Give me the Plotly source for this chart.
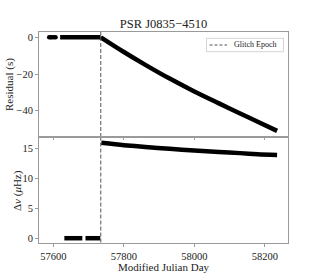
import plotly.graph_objects as go
from plotly.subplots import make_subplots

# ---- data ----
glitch_mjd = 57734.4

# pre-glitch residuals (s)
pre_res_mjd_a = [57588, 57592, 57596, 57601, 57606]
pre_res_val_a = [0, 0, 0, 0, 0]
pre_res_mjd_b = [57619, 57650, 57680, 57710, 57734]
pre_res_val_b = [0, 0, 0, 0, 0]

# post-glitch residuals (s)
post_res_mjd = [57734.4, 57800, 57861, 57930, 58000, 58070, 58130, 58180, 58235]
post_res_val = [0.0, -8.0, -15.0, -22.5, -29.5, -36.0, -41.5, -46.0, -51.0]

# pre-glitch frequency change (uHz)
pre_dnu_mjd_a = [57631, 57650, 57670, 57682]
pre_dnu_val_a = [0, 0, 0, 0]
pre_dnu_mjd_b = [57691, 57710, 57733]
pre_dnu_val_b = [0, 0, 0]

# post-glitch frequency change (uHz)
post_dnu_mjd = [57736, 57800, 57861, 57930, 58000, 58070, 58130, 58180, 58235]
post_dnu_val = [15.95, 15.55, 15.25, 14.95, 14.65, 14.42, 14.22, 14.05, 13.92]

x_ticks = [57600, 57800, 58000, 58200]
res_ticks = [0, -20, -40]
dnu_ticks = [0, 5, 10, 15]

FONT = "Liberation Serif"
SPINE = "#9a9a9a"
TXT = "#222222"

# plot-area geometry (pixels) used to place the hand-made legend / labels
L, R, T, B = 39, 32, 32, 30
W, H = 320, 273
PW, PH = W - L - R, H - T - B


def px_x(x):
    return (x - L) / PW


def px_y(y):
    return (H - B - y) / PH


fig = make_subplots(rows=2, cols=1, shared_xaxes=True, vertical_spacing=0.01)

mk = dict(color="black", size=4.5)
ln = dict(color="black", width=4.5)
ln_s = dict(color="black", width=4.5, shape="spline", smoothing=0.8)

# top panel
fig.add_trace(go.Scatter(x=pre_res_mjd_a, y=pre_res_val_a, mode="markers", marker=mk,
                         showlegend=False), row=1, col=1)
fig.add_trace(go.Scatter(x=pre_res_mjd_b, y=pre_res_val_b, mode="lines", line=ln,
                         showlegend=False), row=1, col=1)
fig.add_trace(go.Scatter(x=post_res_mjd, y=post_res_val, mode="lines", line=ln_s,
                         showlegend=False), row=1, col=1)

# bottom panel
fig.add_trace(go.Scatter(x=pre_dnu_mjd_a, y=pre_dnu_val_a, mode="lines", line=ln,
                         showlegend=False), row=2, col=1)
fig.add_trace(go.Scatter(x=pre_dnu_mjd_b, y=pre_dnu_val_b, mode="lines", line=ln,
                         showlegend=False), row=2, col=1)
fig.add_trace(go.Scatter(x=post_dnu_mjd, y=post_dnu_val, mode="lines", line=ln_s,
                         showlegend=False), row=2, col=1)

# glitch epoch lines
gl = dict(color="#555555", width=1, dash="4px,2px")
fig.add_trace(go.Scatter(x=[glitch_mjd, glitch_mjd], y=[10, -60], mode="lines", line=gl,
                         name="Glitch Epoch", showlegend=False), row=1, col=1)
fig.add_trace(go.Scatter(x=[glitch_mjd, glitch_mjd], y=[20, -2], mode="lines", line=gl,
                         showlegend=False), row=2, col=1)

axis_common = dict(showline=True, linecolor=SPINE, linewidth=1, mirror=True,
                   ticks="outside", ticklen=3, tickcolor=SPINE, showgrid=False,
                   zeroline=False, automargin=False,
                   tickfont=dict(family=FONT, size=10.5, color=TXT))

fig.update_xaxes(range=[57559, 58266], tickvals=x_ticks, ticktext=[str(v) for v in x_ticks],
                 **axis_common)
fig.update_xaxes(showticklabels=False, row=1, col=1)
fig.update_xaxes(title=dict(text="Modified Julian Day", font=dict(family=FONT, size=11, color=TXT),
                            standoff=2), row=2, col=1)

fig.update_yaxes(**axis_common)
fig.update_yaxes(range=[-53.8, 2.9], tickvals=res_ticks, ticktext=["0", "\u221220", "\u221240"],
                 row=1, col=1)
fig.update_yaxes(range=[-0.8, 16.76], tickvals=dnu_ticks, ticktext=[str(v) for v in dnu_ticks],
                 row=2, col=1)

annotations = [
    dict(text="Residual (s)", xref="paper", yref="paper", x=px_x(9), y=px_y(85),
         textangle=-90, showarrow=False, xanchor="center", yanchor="middle",
         font=dict(family=FONT, size=11, color=TXT)),
    dict(text="\u0394<i>\u03bd</i> (<i>\u03bc</i>Hz)", xref="paper", yref="paper",
         x=px_x(17.5), y=px_y(190.5), textangle=-90, showarrow=False,
         xanchor="center", yanchor="middle", font=dict(family=FONT, size=11, color=TXT)),
    dict(text="Glitch Epoch", xref="paper", yref="paper", x=px_x(232), y=px_y(45),
         showarrow=False, xanchor="left", yanchor="middle",
         font=dict(family=FONT, size=8, color=TXT)),
]

shapes = [
    dict(type="rect", xref="paper", yref="paper", x0=px_x(206.5), x1=px_x(283.5),
         y0=px_y(51.7), y1=px_y(38.3), line=dict(color="#d4d4d4", width=1),
         fillcolor="white", layer="above"),
    dict(type="line", xref="paper", yref="paper", x0=px_x(209.5), x1=px_x(227),
         y0=px_y(45), y1=px_y(45), line=dict(color="#555555", width=1, dash="3px,2px"),
         layer="above"),
]

fig.update_layout(
    width=W, height=H,
    margin=dict(l=L, r=R, t=T, b=B),
    paper_bgcolor="white", plot_bgcolor="white",
    showlegend=False,
    title=dict(text="PSR J0835\u22124510", x=0.5, xref="paper", xanchor="center",
               y=1 - 24 / H, yref="container", yanchor="middle",
               font=dict(family=FONT, size=12.5, color=TXT)),
    yaxis=dict(domain=[0.507, 1.0]),
    yaxis2=dict(domain=[0.0, 0.498]),
    annotations=annotations,
    shapes=shapes,
)

fig.write_html("out.html", config={"displayModeBar": False},
               post_script="document.body.style.margin='0';document.body.style.overflow='hidden';")
